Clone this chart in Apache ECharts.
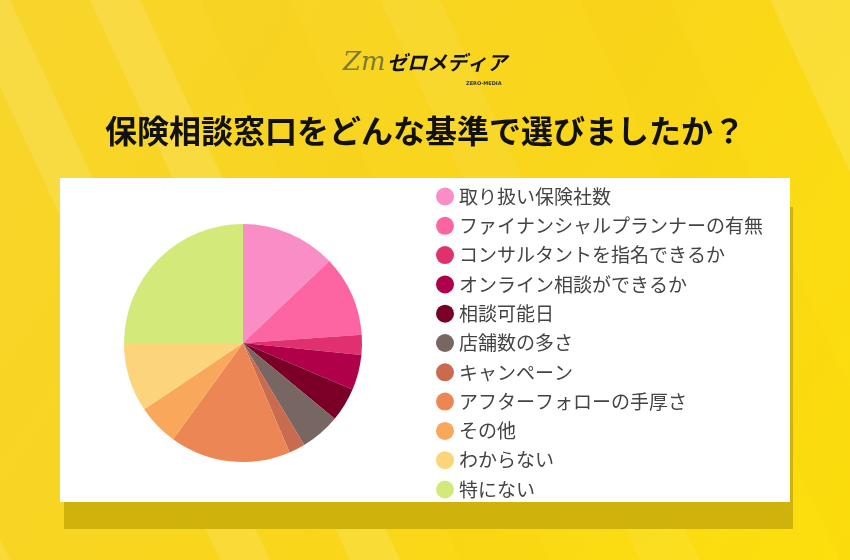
<!DOCTYPE html>
<html>
<head>
<meta charset="utf-8">
<script src="https://cdn.jsdelivr.net/npm/echarts@6/dist/echarts.min.js"></script>
<style>
html,body{margin:0;padding:0;background:#F9D51F;}
#main{width:850px;height:560px;}
</style>
</head>
<body>
<div id="main"></div>
<script>
const titleText = '保険相談窓口をどんな基準で選びましたか？';
const categories = [
  '取り扱い保険社数',
  'ファイナンシャルプランナーの有無',
  'コンサルタントを指名できるか',
  'オンライン相談ができるか',
  '相談可能日',
  '店舗数の多さ',
  'キャンペーン',
  'アフターフォローの手厚さ',
  'その他',
  'わからない',
  '特にない'
];
const values = [12.9, 11.0, 2.7, 4.8, 4.6, 5.4, 2.2, 16.4, 5.6, 9.4, 25.0];
const colors = ['#F98DC5', '#FC65A1', '#E0306E', '#B0004A', '#7A0028', '#786663', '#C96B4E', '#EC8755', '#F9A85B', '#FCD47B', '#D3EA7B'];

const chart = echarts.init(document.getElementById('main'), null, {renderer: 'canvas'});

function stripe(x0, w, fill) {
  const s = 260;
  return {
    type: 'polygon', z: -10, silent: true,
    shape: {points: [[x0, 0], [x0 + w, 0], [x0 + w + s, 560], [x0 + s, 560]]},
    style: {fill: fill}
  };
}

const graphics = [
  {type: 'rect', z: -20, silent: true, shape: {x: 0, y: 0, width: 850, height: 560},
   style: {fill: new echarts.graphic.LinearGradient(0, 0, 1, 1, [
     {offset: 0, color: '#F8D52C'}, {offset: 0.5, color: '#F9D51C'}, {offset: 1, color: '#FCDF0C'}])}},
  stripe(-40, 50, 'rgba(255,255,255,0.12)'),
  stripe(90, 50, 'rgba(255,255,255,0.13)'),
  stripe(200, 90, 'rgba(235,180,0,0.06)'),
  stripe(380, 60, 'rgba(255,255,255,0.06)'),
  stripe(580, 90, 'rgba(235,180,0,0.06)'),
  stripe(770, 100, 'rgba(255,255,255,0.14)'),
  stripe(-320, 70, 'rgba(255,255,255,0.10)'),
  // card shadow
  {type: 'rect', z: -5, silent: true, shape: {x: 64, y: 207, width: 729, height: 322},
   style: {fill: '#CFB20C'}},
  // white card
  {type: 'rect', z: -4, silent: true, shape: {x: 60, y: 178, width: 730, height: 324},
   style: {fill: '#FFFFFF'}},
  // logo
  {type: 'text', z: 5, silent: true, left: 343, top: 50,
   style: {text: 'Zm', font: 'italic 26px "DejaVu Serif"', fill: '#7D7A35'}},
  {type: 'text', z: 5, silent: true, left: 387, top: 52,
   style: {text: 'ゼロメディア', font: 'italic bold 20px "Noto Sans CJK JP"', fill: '#111111'}},
  {type: 'text', z: 5, silent: true, left: 466, top: 81,
   style: {text: 'ZERO-MEDIA', font: 'bold 5px "DejaVu Sans"', fill: '#333333'}}
];

const option = {
  backgroundColor: 'transparent',
  animation: false,
  color: colors,
  title: {
    text: titleText,
    left: 'center',
    top: 110,
    textStyle: {fontFamily: 'Noto Sans CJK JP', fontSize: 32, fontWeight: 'bold', color: '#111111'}
  },
  legend: {
    orient: 'vertical',
    left: 431,
    top: 182,
    icon: 'circle',
    itemWidth: 18,
    itemHeight: 18,
    itemGap: 10.3,
    itemStyle: {borderWidth: 0},
    textStyle: {fontFamily: 'Noto Sans CJK JP', fontSize: 19, color: '#444444'},
    selectedMode: false,
    data: categories
  },
  graphic: graphics,
  series: [{
    type: 'pie',
    center: [243, 343],
    radius: [0, 119],
    startAngle: 90,
    clockwise: true,
    label: {show: false},
    labelLine: {show: false},
    itemStyle: {borderWidth: 0},
    emphasis: {disabled: true},
    data: categories.map((c, i) => ({name: c, value: values[i]}))
  }]
};
chart.setOption(option);
</script>
</body>
</html>
